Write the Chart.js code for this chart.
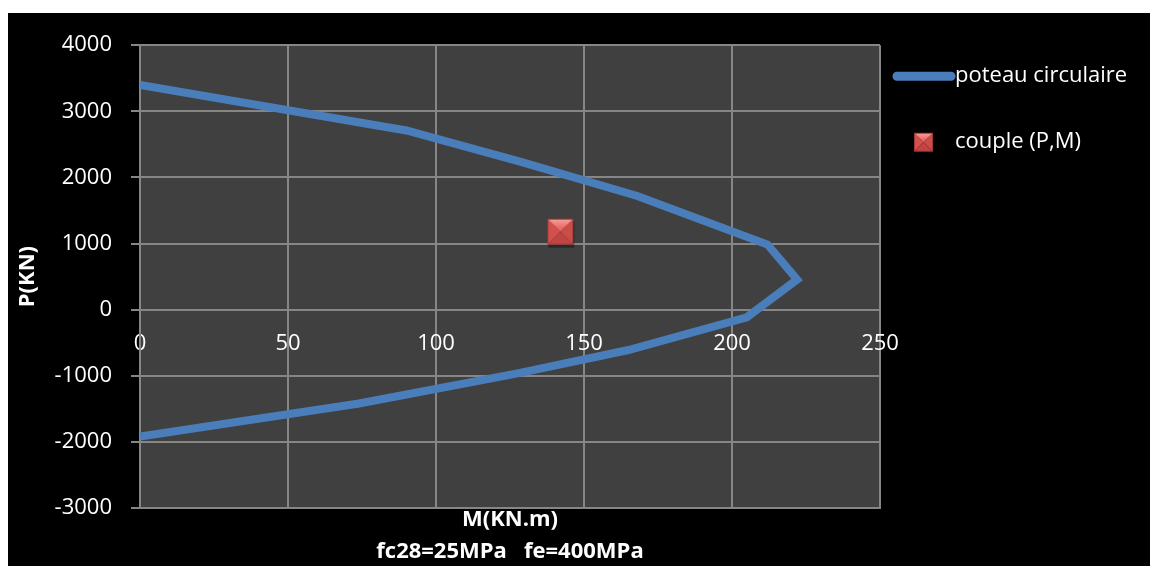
<!DOCTYPE html>
<html>
<head>
<meta charset="utf-8">
<title>Diagramme d'interaction – poteau circulaire</title>
<script src="https://cdn.jsdelivr.net/npm/chart.js@4.4.1/dist/chart.umd.min.js"></script>
<style>
  html, body { margin: 0; padding: 0; background: #ffffff; }
  #wrap { position: absolute; left: 8px; top: 13px; width: 1142px; height: 553px; background: #000000; }
  canvas { display: block; }
</style>
</head>
<body>
<div id="wrap"><canvas id="chart"></canvas></div>
<script>
// Interaction curve of the circular column: bending moment M (kN.m) vs axial load P (kN)
const curveM = [0, 90, 129, 168, 212, 222, 205, 165, 128, 74, 0];
const curveP = [3400, 2710, 2230, 1720, 985, 455, -115, -610, -960, -1420, -1920];

// Load pair to check against the curve
const pairM = [142];
const pairP = [1180];

// Axis ticks
const xTicks = [0, 50, 100, 150, 200, 250];
const yTicks = [-3000, -2000, -1000, 0, 1000, 2000, 3000, 4000];

const seriesNames = ['poteau circulaire', 'couple (P,M)'];
const xTitle = ['M(KN.m)', 'fc28=25MPa   fe=400MPa'];
const yTitle = 'P(KN)';

const FONT = "'Open Sans', 'Noto Sans', sans-serif";
const BLUE = '#4a7ebb';
const GRID = '#868686';

// Bevelled red square used as the point marker
function makeBevelSquare(size) {
  const pad = 4;
  const c = document.createElement('canvas');
  c.width = size + pad * 2;
  c.height = size + pad * 2;
  const g = c.getContext('2d');
  const x0 = pad, y0 = pad, x1 = pad + size, y1 = pad + size;
  const cx = (x0 + x1) / 2, cy = (y0 + y1) / 2;
  // soft shadow
  g.fillStyle = 'rgba(0,0,0,0.35)';
  g.fillRect(x0 + 1, y0 + 3, size, size);
  const tri = (pts, col) => {
    g.beginPath();
    g.moveTo(pts[0], pts[1]);
    g.lineTo(pts[2], pts[3]);
    g.lineTo(pts[4], pts[5]);
    g.closePath();
    g.fillStyle = col;
    g.fill();
  };
  tri([x0, y0, x1, y0, cx, cy], '#ec6a66');
  tri([x0, y0, x0, y1, cx, cy], '#d4504c');
  tri([x1, y0, x1, y1, cx, cy], '#cc4c48');
  tri([x0, y1, x1, y1, cx, cy], '#bf4442');
  // top highlight band
  const hl = g.createLinearGradient(0, y0, 0, y0 + size * 0.35);
  hl.addColorStop(0, 'rgba(255,200,195,0.6)');
  hl.addColorStop(1, 'rgba(255,200,195,0)');
  g.fillStyle = hl;
  g.beginPath();
  g.moveTo(x0, y0); g.lineTo(x1, y0); g.lineTo(cx, cy); g.closePath();
  g.fill();
  g.strokeStyle = '#a33634';
  g.lineWidth = 1;
  g.strokeRect(x0 + 0.5, y0 + 0.5, size - 1, size - 1);
  return c;
}

const pairMarker = makeBevelSquare(26);
const legendMarker = makeBevelSquare(19);

const curveData = curveM.map((m, i) => ({ x: m, y: curveP[i] }));
const pairData = pairM.map((m, i) => ({ x: m, y: pairP[i] }));

// Dark plot-area fill
const plotBackground = {
  id: 'plotBackground',
  beforeDraw(chart) {
    const { ctx, chartArea: a } = chart;
    ctx.save();
    ctx.fillStyle = '#404040';
    ctx.fillRect(a.left, a.top, a.right - a.left, a.bottom - a.top);
    ctx.restore();
  }
};

// Legend on the right: thick line for the curve, bevelled square for the pair
const sideLegend = {
  id: 'sideLegend',
  afterDraw(chart) {
    const { ctx } = chart;
    const ds = chart.data.datasets;
    const a = chart.chartArea;
    ctx.save();
    ctx.font = '22px ' + FONT;
    ctx.fillStyle = '#ffffff';
    ctx.textBaseline = 'middle';
    ctx.textAlign = 'left';
    const textX = a.right + 75;
    // curve entry
    const y1 = a.top + 31;
    ctx.strokeStyle = ds[0].borderColor;
    ctx.lineWidth = 9;
    ctx.lineCap = 'round';
    ctx.beginPath();
    ctx.moveTo(a.right + 17, y1);
    ctx.lineTo(a.right + 71, y1);
    ctx.stroke();
    ctx.fillText(ds[0].label, textX, y1);
    // pair entry
    const y2 = a.top + 97;
    const img = legendMarker;
    ctx.drawImage(img, a.right + 43.5 - img.width / 2, y2 - img.height / 2);
    ctx.fillText(ds[1].label, textX, y2);
    ctx.restore();
  }
};

new Chart(document.getElementById('chart'), {
  type: 'scatter',
  data: {
    datasets: [
      {
        label: seriesNames[0],
        data: curveData,
        showLine: true,
        borderColor: BLUE,
        backgroundColor: BLUE,
        borderWidth: 8,
        pointRadius: 0,
        pointHoverRadius: 0,
        tension: 0,
        fill: false,
        order: 1
      },
      {
        label: seriesNames[1],
        data: pairData,
        showLine: false,
        pointStyle: pairMarker,
        backgroundColor: '#c0504d',
        borderColor: '#c0504d',
        pointRadius: 13,
        order: 0
      }
    ]
  },
  options: {
    responsive: true,
    maintainAspectRatio: false,
    animation: false,
    events: [],
    layout: { padding: { top: 29, right: 270, left: 0, bottom: 0 } },
    plugins: {
      legend: { display: false },
      tooltip: { enabled: false },
      title: { display: false }
    },
    scales: {
      x: {
        type: 'linear',
        position: 'bottom',
        min: 0,
        max: 250,
        afterBuildTicks(scale) { scale.ticks = xTicks.map(v => ({ value: v })); },
        ticks: { display: false },
        grid: { color: GRID, lineWidth: 2, drawTicks: false },
        border: { display: true, color: GRID, width: 2 },
        title: {
          display: true,
          text: xTitle,
          color: '#ffffff',
          font: { family: FONT, size: 22, weight: 'bold', lineHeight: 32 / 22 },
          padding: { top: 0, bottom: -2 }
        },
        afterFit(scale) { scale.height = 58; }
      },
      xZero: {
        type: 'linear',
        axis: 'x',
        position: { y: 0 },
        min: 0,
        max: 250,
        afterBuildTicks(scale) { scale.ticks = xTicks.map(v => ({ value: v })); },
        ticks: {
          color: '#ffffff',
          font: { family: FONT, size: 22 },
          padding: 21,
          maxRotation: 0,
          autoSkip: false,
          callback: v => String(v)
        },
        grid: { display: false, drawTicks: false },
        border: { display: false }
      },
      y: {
        type: 'linear',
        position: 'left',
        min: -3000,
        max: 4000,
        afterBuildTicks(scale) { scale.ticks = yTicks.map(v => ({ value: v })); },
        ticks: {
          color: '#ffffff',
          font: { family: FONT, size: 22 },
          padding: 19,
          callback: v => String(v)
        },
        grid: { color: GRID, lineWidth: 2, drawTicks: true, tickLength: 9, tickColor: GRID },
        border: { display: true, color: GRID, width: 2 },
        title: {
          display: true,
          text: yTitle,
          color: '#ffffff',
          font: { family: FONT, size: 22, weight: 'bold', lineHeight: 1.2 },
          padding: { top: 7, bottom: 0 }
        },
        afterFit(scale) { scale.width = 132; }
      }
    }
  },
  plugins: [plotBackground, sideLegend]
});
</script>
</body>
</html>
